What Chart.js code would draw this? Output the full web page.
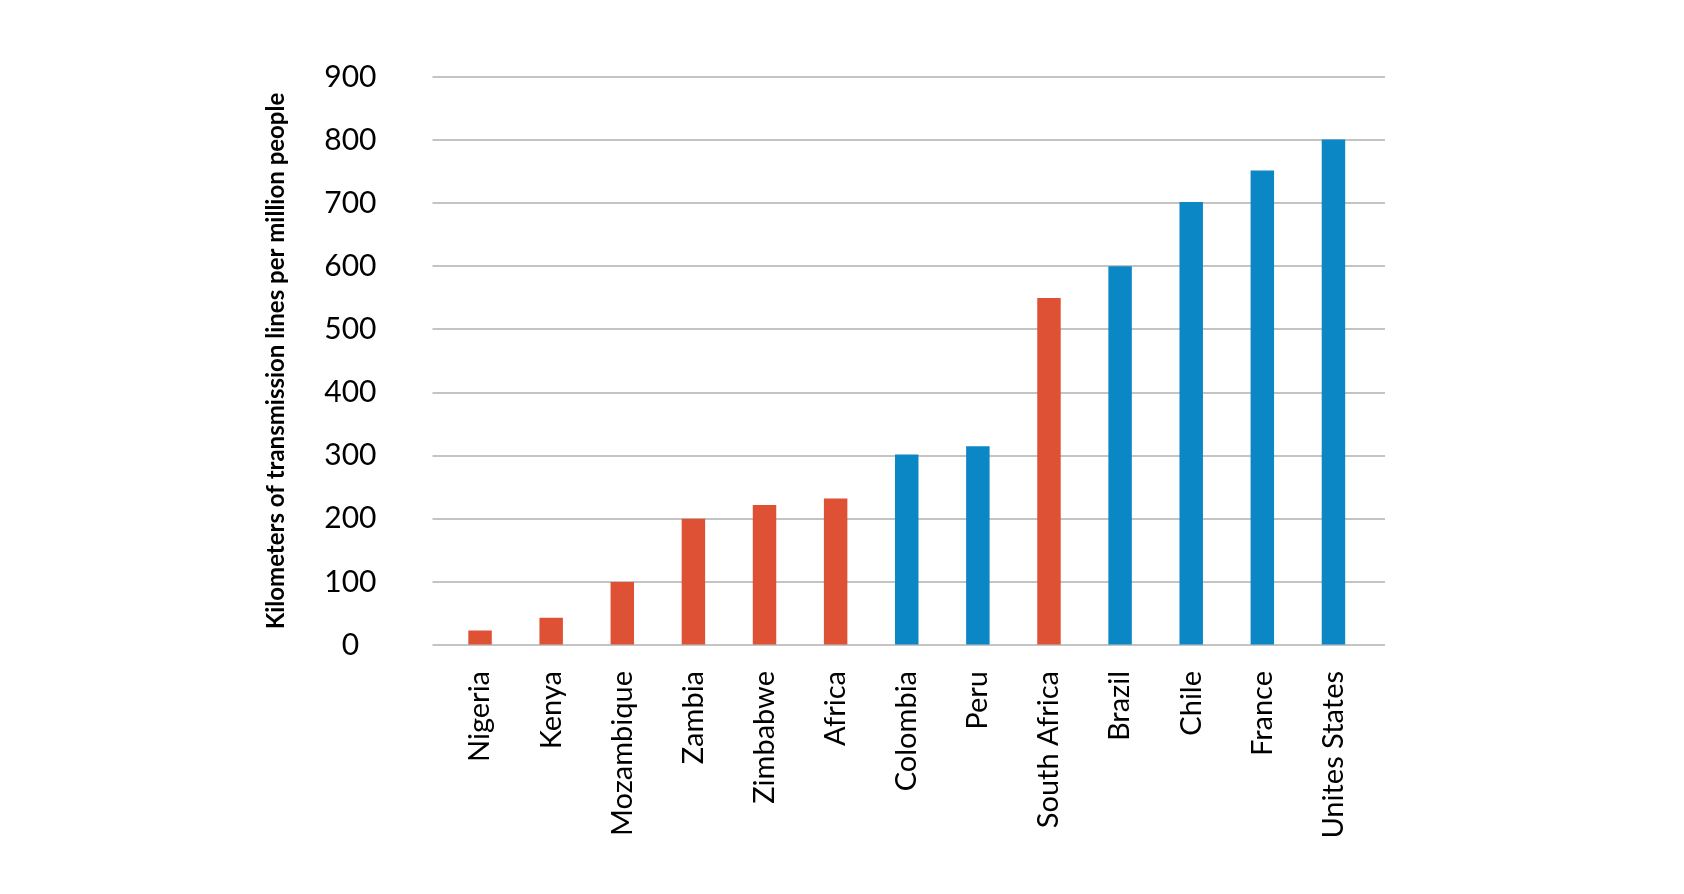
<!DOCTYPE html>
<html>
<head>
<meta charset="utf-8">
<script src="https://cdn.jsdelivr.net/npm/chart.js@4"></script>
<style>
  html, body { margin: 0; padding: 0; background: #fff; }
  #wrap { width: 1684px; height: 894px; }
</style>
</head>
<body>
<div id="wrap"><canvas id="grafica" width="1684" height="894"></canvas></div>
<script>
const paises = ["Nigeria", "Kenya", "Mozambique", "Zambia", "Zimbabwe", "Africa", "Colombia",
  "Peru", "South Africa", "Brazil", "Chile", "France", "Unites States"];
const km = [23, 43, 100, 200, 222, 232, 302, 315, 550, 600, 702, 752, 801];
const esAfrica = [true, true, true, true, true, true, false, false, true, false, false, false, false];
const ticksY = [0, 100, 200, 300, 400, 500, 600, 700, 800, 900];

const ROJO = "#df5134";
const AZUL = "#0a87c4";

// grid horizontal dibujado a mano para que sobresalga del area de barras
const lineasY = {
  id: "lineasY",
  beforeDatasetsDraw(chart) {
    const { ctx, chartArea, scales } = chart;
    ctx.save();
    ctx.strokeStyle = "#c4c4c4";
    ctx.lineWidth = 2;
    ticksY.forEach(v => {
      const y = Math.round(scales.y.getPixelForValue(v));
      ctx.beginPath();
      ctx.moveTo(chartArea.left - 12, y);
      ctx.lineTo(chartArea.right + 16, y);
      ctx.stroke();
    });
    ctx.restore();
  }
};

const ctx = document.getElementById("grafica").getContext("2d");
new Chart(ctx, {
  type: "bar",
  data: {
    labels: paises,
    datasets: [{
      data: km,
      backgroundColor: esAfrica.map(a => a ? ROJO : AZUL),
      categoryPercentage: 1,
      barPercentage: 0.33
    }]
  },
  options: {
    responsive: false,
    animation: false,
    layout: { padding: { left: 250, right: 315, top: 77, bottom: 0 } },
    plugins: {
      legend: { display: false },
      tooltip: { enabled: false }
    },
    scales: {
      x: {
        grid: { display: false, drawTicks: false },
        border: { display: false },
        ticks: {
          minRotation: 90,
          maxRotation: 90,
          autoSkip: false,
          padding: 26,
          color: "#000",
          font: { family: "Lato", size: 29 }
        },
        afterFit(scale) { scale.height = 249; }
      },
      y: {
        min: 0,
        max: 900,
        // marcas invisibles: solo sirven para separar las etiquetas del grid
        grid: { display: true, drawOnChartArea: false, color: "rgba(0,0,0,0)", drawTicks: true, tickLength: 68 },
        border: { display: false },
        afterBuildTicks(scale) { scale.ticks = ticksY.map(v => ({ value: v })); },
        ticks: {
          padding: 0,
          crossAlign: "center",
          color: "#000",
          font: { family: "Lato", size: 30 }
        },
        title: {
          display: true,
          text: "Kilometers of transmission lines per million people",
          color: "#000",
          font: { family: "Lato", size: 24, weight: "bold" },
          padding: { top: 12, bottom: 0 }
        },
        afterFit(scale) { scale.width = 194.5; }
      }
    }
  },
  plugins: [lineasY]
});
</script>
</body>
</html>
